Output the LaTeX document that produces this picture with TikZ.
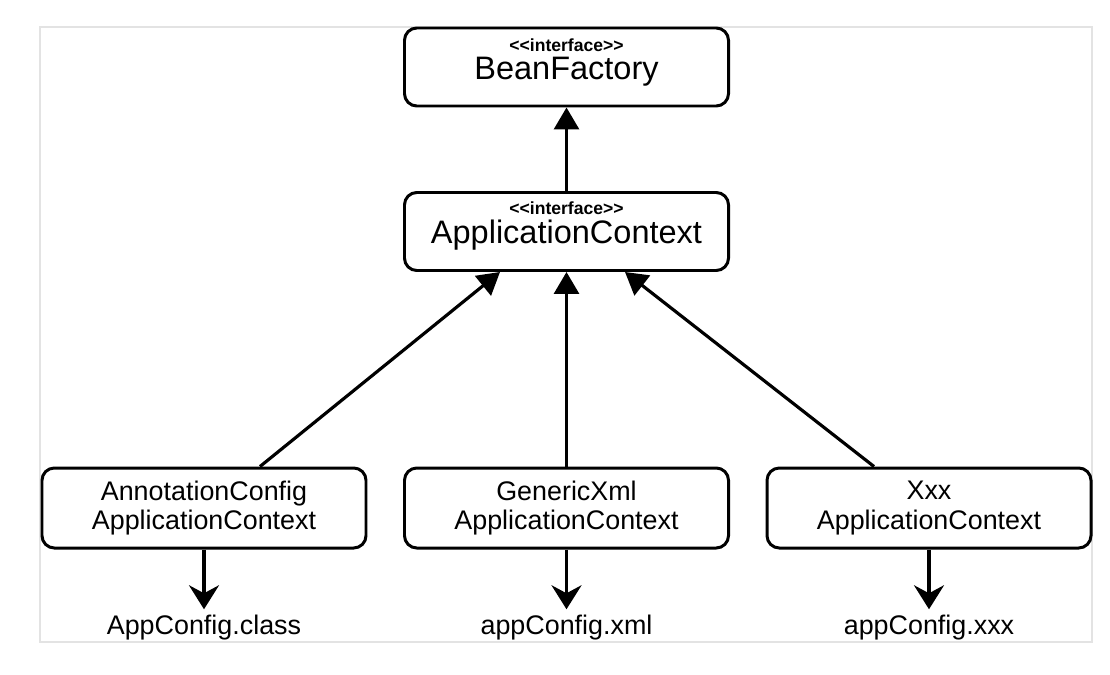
\documentclass[tikz,border=0pt]{standalone}
\usepackage{fontspec}
\setmainfont{Liberation Sans}
\usetikzlibrary{arrows.meta}

\tikzset{
    classbox/.style={draw, rounded corners=7pt, line width=1.7pt, minimum width=6.48cm},
    ifacebox/.style={classbox, minimum height=1.56cm},
    implbox/.style={classbox, minimum height=1.6cm, align=center, font=\fontsize{15.3}{16.8}\selectfont},
    stereo/.style={font=\fontsize{10}{12}\selectfont\bfseries, inner sep=0pt},
    bigname/.style={font=\fontsize{18.5}{22}\selectfont, inner sep=0pt},
    filename/.style={font=\fontsize{15.3}{18}\selectfont},
    upline/.style={line width=1.8pt, -{Triangle[width=0.5cm,length=0.44cm]}},
    downline/.style={line width=1.8pt, -{Stealth[width=0.6cm,length=0.48cm,inset=0.16cm]}}
}

\begin{document}
\begin{tikzpicture}

        \useasboundingbox (0,0) rectangle (22.2,-13.48);

        %light frame round the whole diagram
        \draw [draw=gray!22, line width=0.8pt] (0.8,-0.54) rectangle (21.84,-12.84);

        %BeanFactory interface
        \node [ifacebox] (beanfactory) at (11.33,-1.34) {};
        \node [stereo] (bfstereo) at (11.33,-0.90) {{<}{<}interface{>}{>}};
        \node [bigname] (bfname) at (11.33,-1.44) {BeanFactory};

        %ApplicationContext interface
        \node [ifacebox] (appctx) at (11.33,-4.63) {};
        \node [stereo] (acstereo) at (11.33,-4.16) {{<}{<}interface{>}{>}};
        \node [bigname] (acname) at (11.33,-4.70) {ApplicationContext};

        %ApplicationContext extends BeanFactory
        \draw [upline] (appctx.north) -- (beanfactory.south);

        %implementations
        \node [implbox] (annotctx) at (4.08,-10.16) {AnnotationConfig\\ApplicationContext};
        \node [implbox] (xmlctx) at (11.33,-10.16) {GenericXml\\ApplicationContext};
        \node [implbox] (xxxctx) at (18.58,-10.16) {Xxx\\ApplicationContext};

        %implementations to ApplicationContext
        \draw [upline] ([xshift=1.12cm]annotctx.north) -- ([xshift=-1.33cm]appctx.south);
        \draw [upline] (xmlctx.north) -- (appctx.south);
        \draw [upline] ([xshift=-1.1cm]xxxctx.north) -- ([xshift=1.17cm]appctx.south);

        %configuration sources
        \node [filename] (appclass) at (4.08,-12.56) {AppConfig.class};
        \node [filename] (appxml) at (11.33,-12.56) {appConfig.xml};
        \node [filename] (appxxx) at (18.58,-12.56) {appConfig.xxx};

        \draw [downline] (annotctx.south) -- (appclass.north);
        \draw [downline] (xmlctx.south) -- (appxml.north);
        \draw [downline] (xxxctx.south) -- (appxxx.north);

    \end{tikzpicture}
\end{document}
